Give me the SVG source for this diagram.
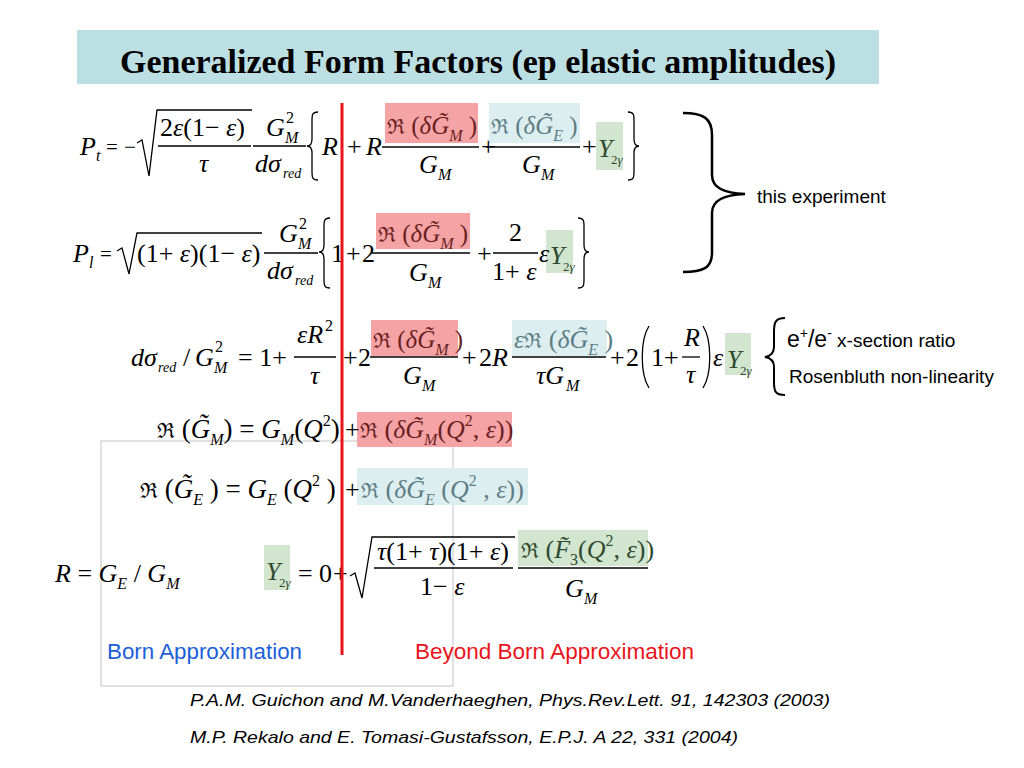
<svg xmlns="http://www.w3.org/2000/svg" width="1024" height="768" viewBox="0 0 1024 768">
<style>
.m{font-family:"Liberation Serif","DejaVu Serif",serif;font-size:26px;fill:#000}
.m27{font-size:27px}
.nm{font-size:25px}
.op{font-size:21px}
.i{font-style:italic}
.sb{font-size:16px}
.ss{font-size:14px}
.sy{font-size:13px}
.fk{font-family:"DejaVu Serif","Liberation Serif",serif;font-size:21px;font-style:normal}
.bar{stroke:#000;stroke-width:1.3}
.br{fill:none;stroke:#000;stroke-width:1.3}
.tr{fill:#6a1f22}
.tb{fill:#5d7d84}
.tg{fill:#2f4a30}
.hr{fill:#f5a3a5}
.hb{fill:#ddeef1}
.hg{fill:#d2e5cf}
.lab{font-family:"Liberation Sans",Arial,sans-serif;fill:#000}
</style>
<rect width="1024" height="768" fill="#fff"/>

<g id="title">
<rect x="77" y="30" width="802" height="54" fill="#bcdfe4"/>
<text x="478" y="73" text-anchor="middle" font-family="Liberation Serif,serif" font-weight="bold" font-size="34" textLength="716" lengthAdjust="spacingAndGlyphs">Generalized Form Factors (ep elastic amplitudes)</text>
</g>

<rect id="born-box" x="101" y="441" width="352" height="245" fill="none" stroke="#c4c4c4" stroke-width="1"/>

<g id="eq-Pt">
<rect class="hr" x="385" y="103" width="93" height="40"/>
<rect class="hb" x="489" y="103" width="91" height="40"/>
<rect class="hg" x="596" y="122" width="27" height="48"/>
<text class="m i" x="80" y="155">P</text><text class="m i sb" x="96" y="161">t</text>
<text class="m op" x="106" y="154">=</text><text class="m op" x="124" y="154">−</text>
<path class="br" d="M137,143 L142,140 L149,176 L157,110 H252"/>
<text class="m" x="160" y="136">2<tspan class="i">ε</tspan>(1− <tspan class="i">ε</tspan>)</text>
<line class="bar" x1="158" y1="146" x2="251" y2="146"/>
<text class="m i" x="199" y="172">τ</text>
<text class="m i" x="266" y="136">G</text><text class="m sb" x="286" y="123">2</text><text class="m sb i" x="285" y="143">M</text>
<line class="bar" x1="253" y1="146" x2="306" y2="146"/>
<text class="m i" x="255" y="172">dσ</text><text class="m i ss" x="283" y="178">red</text>
<path class="br" d="M318,112 C312,112 312,115 312,121 L312,139 C312,144 310,146 307,146 C310,146 312,148 312,153 L312,171 C312,177 312,180 318,180"/>
<text class="m i" x="322" y="155">R</text>
<text class="m" x="347" y="155">+</text>
<text class="m i" x="366" y="155">R</text>
<text class="m nm tr" x="387" y="134"><tspan class="fk">ℜ</tspan> (<tspan class="i">δG̃</tspan><tspan class="sb i" dy="7">M</tspan><tspan dy="-7"> )</tspan></text>
<line class="bar" x1="382" y1="147" x2="479" y2="147"/>
<text class="m i" x="419" y="173">G</text><text class="m sb i" x="438" y="180">M</text>
<text class="m" x="481" y="155">+</text>
<text class="m nm tb" x="491" y="134"><tspan class="fk">ℜ</tspan> (<tspan class="i">δG̃</tspan><tspan class="sb i" dy="7">E</tspan><tspan dy="-7"> )</tspan></text>
<line class="bar" x1="486" y1="147" x2="580" y2="147"/>
<text class="m i" x="522" y="173">G</text><text class="m sb i" x="541" y="180">M</text>
<text class="m" x="582" y="155">+</text>
<text class="m i tg" x="598" y="157">Y</text><text class="m sy tg" x="611" y="164">2<tspan class="i">γ</tspan></text>
<path class="br" d="M628,112 C634,112 634,115 634,121 L634,139 C634,144 636,146 639,146 C636,146 634,148 634,153 L634,171 C634,177 634,180 628,180"/>
</g>

<g id="eq-Pl">
<rect class="hr" x="376" y="213" width="94" height="36"/>
<rect class="hg" x="546" y="230" width="27" height="43"/>
<text class="m i" x="73" y="262">P</text><text class="m i sb" x="89" y="268">l</text>
<text class="m op" x="100" y="261">=</text>
<path class="br" d="M117,251 L122,248 L129,274 L137,233 H262"/>
<text class="m" x="137" y="262">(1+ <tspan class="i">ε</tspan>)(1− <tspan class="i">ε</tspan>)</text>
<text class="m i" x="279" y="242">G</text><text class="m sb" x="299" y="229">2</text><text class="m sb i" x="298" y="249">M</text>
<line class="bar" x1="264" y1="253" x2="318" y2="253"/>
<text class="m i" x="267" y="279">dσ</text><text class="m i ss" x="295" y="285">red</text>
<path class="br" d="M330,218 C324,218 324,221 324,227 L324,245 C324,250 322,252 319,252 C322,252 324,254 324,259 L324,279 C324,285 324,288 330,288"/>
<text class="m" x="331" y="262">1</text>
<text class="m" x="346" y="262">+</text><text class="m" x="362" y="262">2</text>
<text class="m nm tr" x="378" y="242"><tspan class="fk">ℜ</tspan> (<tspan class="i">δG̃</tspan><tspan class="sb i" dy="7">M</tspan><tspan dy="-7"> )</tspan></text>
<line class="bar" x1="372" y1="253" x2="470" y2="253"/>
<text class="m i" x="409" y="281">G</text><text class="m sb i" x="428" y="288">M</text>
<text class="m" x="477" y="262">+</text>
<text class="m" x="509" y="241">2</text>
<line class="bar" x1="493" y1="253" x2="538" y2="253"/>
<text class="m" x="492" y="280">1+ <tspan class="i">ε</tspan></text>
<text class="m i" x="539" y="262">ε</text>
<text class="m i tg" x="550" y="264">Y</text><text class="m sy tg" x="563" y="271">2<tspan class="i">γ</tspan></text>
<path class="br" d="M578,218 C584,218 584,221 584,227 L584,245 C584,250 586,252 589,252 C586,252 584,254 584,259 L584,279 C584,285 584,288 578,288"/>
</g>

<g id="eq-sigma">
<rect class="hr" x="371" y="320" width="87" height="36"/>
<rect class="hb" x="512" y="320" width="95" height="36"/>
<rect class="hg" x="725" y="333" width="26" height="42"/>
<text class="m i" x="131" y="366">dσ</text><text class="m i ss" x="158" y="372">red</text>
<text class="m" x="183" y="366">/</text>
<text class="m i" x="195" y="366">G</text><text class="m sb" x="215" y="352">2</text><text class="m sb i" x="214" y="373">M</text>
<text class="m" x="238" y="366">= 1+</text>
<text class="m i" x="297" y="343">εR</text><text class="m sb" x="325" y="331">2</text>
<line class="bar" x1="294" y1="357" x2="336" y2="357"/>
<text class="m i" x="310" y="384">τ</text>
<text class="m" x="343" y="366">+</text><text class="m" x="358" y="366">2</text>
<text class="m nm tr" x="373" y="348"><tspan class="fk">ℜ</tspan> (<tspan class="i">δG̃</tspan><tspan class="sb i" dy="7">M</tspan><tspan dy="-7"> )</tspan></text>
<line class="bar" x1="370" y1="357" x2="458" y2="357"/>
<text class="m i" x="403" y="384">G</text><text class="m sb i" x="422" y="391">M</text>
<text class="m" x="462" y="366">+</text><text class="m" x="479" y="366">2<tspan class="i">R</tspan></text>
<text class="m tb" x="514" y="348" font-size="24"><tspan class="i">ε</tspan><tspan class="fk" font-size="20">ℜ</tspan> (<tspan class="i">δG̃</tspan><tspan class="sb i" dy="7">E</tspan><tspan dy="-7"> )</tspan></text>
<line class="bar" x1="512" y1="357" x2="606" y2="357"/>
<text class="m i" x="536" y="384">τG</text><text class="m sb i" x="566" y="391">M</text>
<text class="m" x="610" y="366">+</text><text class="m" x="626" y="366">2</text>
<path class="br" d="M649,326 C640,340 640,374 649,388"/>
<text class="m" x="651" y="366">1+</text>
<text class="m i" x="684" y="346">R</text>
<line class="bar" x1="682" y1="357" x2="700" y2="357"/>
<text class="m i" x="686" y="383">τ</text>
<path class="br" d="M703,326 C712,340 712,374 703,388"/>
<text class="m i" x="713" y="366">ε</text>
<text class="m i tg" x="727" y="368">Y</text><text class="m sy tg" x="740" y="375">2<tspan class="i">γ</tspan></text>
</g>

<g id="eq-GM">
<rect class="hr" x="357" y="412" width="155" height="35"/>
<text class="m m27" x="157" y="438"><tspan class="fk" font-size="22">ℜ</tspan> (<tspan class="i">G̃</tspan><tspan class="sb i" dy="7">M</tspan><tspan dy="-7">) = </tspan><tspan class="i">G</tspan><tspan class="sb i" dy="7">M</tspan><tspan dy="-7">(</tspan><tspan class="i">Q</tspan><tspan class="sb" dy="-12">2</tspan><tspan dy="12">)</tspan></text>
<text class="m" x="345" y="438">+</text>
<text class="m tr" x="360" y="438"><tspan class="fk">ℜ</tspan> (<tspan class="i">δG̃</tspan><tspan class="sb i" dy="7">M</tspan><tspan dy="-7">(</tspan><tspan class="i">Q</tspan><tspan class="sb" dy="-12">2</tspan><tspan dy="12">, </tspan><tspan class="i">ε</tspan>))</text>
</g>

<g id="eq-GE">
<rect class="hb" x="357" y="468" width="171" height="37"/>
<text class="m m27" x="140" y="498"><tspan class="fk" font-size="22">ℜ</tspan> (<tspan class="i">G̃</tspan><tspan class="sb i" dy="7">E</tspan><tspan dy="-7"> ) = </tspan><tspan class="i">G</tspan><tspan class="sb i" dy="7">E</tspan><tspan dy="-7"> (</tspan><tspan class="i">Q</tspan><tspan class="sb" dy="-12">2</tspan><tspan dy="12"> )</tspan></text>
<text class="m" x="345" y="498">+</text>
<text class="m tb" x="361" y="498"><tspan class="fk">ℜ</tspan> (<tspan class="i">δG̃</tspan><tspan class="sb i" dy="7">E</tspan><tspan dy="-7"> (</tspan><tspan class="i">Q</tspan><tspan class="sb" dy="-12">2</tspan><tspan dy="12"> , </tspan><tspan class="i">ε</tspan>))</text>
</g>

<g id="eq-R">
<text class="m" x="55" y="582"><tspan class="i">R</tspan> = <tspan class="i">G</tspan><tspan class="sb i" dy="7">E</tspan><tspan dy="-7"> / </tspan><tspan class="i">G</tspan><tspan class="sb i" dy="7">M</tspan></text>
</g>

<g id="eq-Y">
<rect class="hg" x="264" y="545" width="26" height="45"/>
<rect class="hg" x="518" y="530" width="130" height="36"/>
<text class="m i tg" x="266" y="580">Y</text><text class="m sy tg" x="279" y="587">2<tspan class="i">γ</tspan></text>
<text class="m" x="298" y="582">=</text><text class="m" x="319" y="582">0</text><text class="m" x="333" y="582">+</text>
<path class="br" d="M350,576 L355,573 L362,598 L372,537 H515"/>
<text class="m" x="377" y="560"><tspan class="i">τ</tspan>(1+ <tspan class="i">τ</tspan>)(1+ <tspan class="i">ε</tspan>)</text>
<line class="bar" x1="374" y1="568" x2="513" y2="568"/>
<text class="m" x="420" y="595">1− <tspan class="i">ε</tspan></text>
<text class="m tg" x="521" y="558"><tspan class="fk">ℜ</tspan> (<tspan class="i">F̃</tspan><tspan class="sb" dy="7">3</tspan><tspan dy="-7">(</tspan><tspan class="i">Q</tspan><tspan class="sb" dy="-12">2</tspan><tspan dy="12">, </tspan><tspan class="i">ε</tspan>))</text>
<line class="bar" x1="518" y1="568" x2="648" y2="568"/>
<text class="m i" x="565" y="597">G</text><text class="m sb i" x="584" y="604">M</text>
</g>

<g id="divider">
<line x1="342" y1="103" x2="342" y2="655" stroke="#e8141c" stroke-width="3"/>
</g>

<g id="connectors">
<path d="M683,113 C703,113 712,118 712,135 L712,175 C712,188 724,193 745,194 C724,195 712,200 712,213 L712,253 C712,268 703,272 683,272" fill="none" stroke="#000" stroke-width="2.5"/>
<path d="M785,318 C775,318 774,323 774,332 L774,347 C774,353 771,356 765,357 C771,358 774,361 774,367 L774,382 C774,391 775,395 785,395" fill="none" stroke="#000" stroke-width="2"/>
</g>

<g id="labels">
<text class="lab" x="757" y="203" font-size="19">this experiment</text>
<text class="lab" x="787" y="347" font-size="23">e<tspan font-size="14" dy="-9">+</tspan><tspan dy="9">/e</tspan><tspan font-size="14" dy="-9">-</tspan><tspan font-size="19" dy="9"> x-section ratio</tspan></text>
<text class="lab" x="789" y="383" font-size="19">Rosenbluth non-linearity</text>
<text class="lab" x="107" y="659" font-size="22" style="fill:#1c5fd8" textLength="195" lengthAdjust="spacingAndGlyphs">Born Approximation</text>
<text class="lab" x="415" y="659" font-size="22" style="fill:#e8141c" textLength="279" lengthAdjust="spacingAndGlyphs">Beyond Born Approximation</text>
</g>

<g id="references">
<text class="lab" x="190" y="706" font-size="17" font-style="italic" textLength="640" lengthAdjust="spacingAndGlyphs">P.A.M. Guichon and M.Vanderhaeghen, Phys.Rev.Lett. 91, 142303 (2003)</text>
<text class="lab" x="190" y="743" font-size="17" font-style="italic" textLength="548" lengthAdjust="spacingAndGlyphs">M.P. Rekalo and E. Tomasi-Gustafsson, E.P.J. A 22, 331 (2004)</text>
</g>
</svg>
